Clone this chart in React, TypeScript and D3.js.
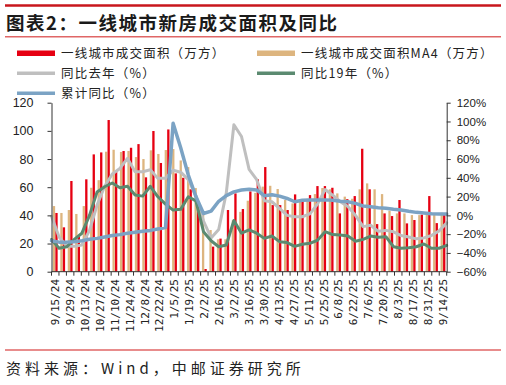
import React, { useEffect, useRef } from "react";
import * as d3 from "d3";

// weekly categories, 9/15/24 .. 9/14/25
const weeks = [
  "9/15/24", "9/22/24", "9/29/24", "10/6/24", "10/13/24", "10/20/24", "10/27/24", "11/3/24",
  "11/10/24", "11/17/24", "11/24/24", "12/1/24", "12/8/24", "12/15/24", "12/22/24", "12/29/24",
  "1/5/25", "1/12/25", "1/19/25", "1/26/25", "2/2/25", "2/9/25", "2/16/25", "2/23/25",
  "3/2/25", "3/9/25", "3/16/25", "3/23/25", "3/30/25", "4/6/25", "4/13/25", "4/20/25",
  "4/27/25", "5/4/25", "5/11/25", "5/18/25", "5/25/25", "6/1/25", "6/8/25", "6/15/25",
  "6/22/25", "6/29/25", "7/6/25", "7/13/25", "7/20/25", "7/27/25", "8/3/25", "8/10/25",
  "8/17/25", "8/24/25", "8/31/25", "9/7/25", "9/14/25",
];

// 一线城市成交面积（万方）
const area = [
  41.7, 31.5, 64.4, 25, 65.6, 83.3, 84.7, 107.7, 71, 85.7, 88, 90.6, 67, 99.9,
  77.2, 101, 69.8, 66.7, 58.5, 44, 1.9, 17.8, 23.5, 43.8, 55.6, 44.5, 57, 65.6,
  74.3, 47.3, 47.3, 43.8, 54.9, 50.2, 54.4, 60.8, 60.8, 59.6, 41.4, 51.5, 53.7,
  87.3, 58.5, 33.8, 41.4, 39.5, 50.9, 34.3, 36.7, 40.5, 53.7, 34.5, 40.5,
];

// 一线城市成交面积MA4（万方）
const areaMA4 = [
  46.6, 41.7, 43.8, 41, 46.6, 59.6, 65, 85.2, 86.6, 85, 85.7, 81.4, 80, 86.2,
  83.6, 86.4, 87.1, 79, 74.3, 59.4, 41, 29.6, 23, 23, 36.5, 42.5, 50.4, 56,
  60.4, 61, 58.7, 50.9, 48.5, 50.9, 51.8, 55.1, 59.4, 58.5, 55.6, 53.3, 51.8,
  58.5, 62.7, 58.5, 55.1, 43.3, 41.4, 41.4, 40.2, 40.2, 40.5, 40.5, 41.9,
];

// 同比去年（%）
const yoyLastYear = [
  -1, -23, -33, -33, -31.5, -16, 11, 31, 44, 50, 60.7, 46.5, 46.5, 48.5,
  39.4, 39.4, 48, 46, 38, 21, -6, -24, -15, 24, 96.5, 84, 49, 38,
  15.5, 14.5, 7.5, 0, -1.5, -1.5, 1.5, 12, 27.5, 21.5, 14.5, 9.5, 0,
  -12, -10.5, -17, -16, -17.5, -21.5, -23, -25, -24, -21.5, -16.5, -8,
];

// 同比19年（%）
const yoy2019 = [
  -25.7, -35, -33.5, -25.5, -19, 0, 25, 30.5, 34.5, 29.5, 31, 21.6, 20.5, 31,
  19.8, 12, 5.6, 6.4, 19.8, 15.5, -17.4, -27, -33.4, -31.6, -5.5, -19, -15.5, -19,
  -24.5, -22, -28, -29, -33, -30.8, -29.8, -26.5, -17.4, -20.5, -21, -22, -27.5,
  -25.6, -22, -23.4, -22.7, -33.4, -35, -34.4, -33.4, -30.5, -35, -35, -32,
];

// 累计同比（%）
const yoyCumulative = [
  -27, -28.5, -28.5, -28, -27, -25.5, -24.5, -23, -21.5, -20.5, -19, -18, -17, -16,
  -14.5, -13, 98, 72, 43, 20, 2, 4.5, 15, 21, 25, 27, 27.7, 27,
  21, 22, 20.5, 18, 14.5, 16, 16.3, 16.5, 16.5, 16, 15, 14.5, 12.8,
  10, 9.2, 8.2, 7.5, 6.4, 5.7, 4.3, 3.2, 2.5, 1.8, 1.4, 1.4,
];

const leftTicks = [0, 20, 40, 60, 80, 100, 120];
const rightTicks = [-60, -40, -20, 0, 20, 40, 60, 80, 100, 120];

const colorRed = "#E60012";
const colorTan = "#DDB57F";
const colorGrey = "#BFBFBF";
const colorGreen = "#5B8A70";
const colorBlue = "#7BA3C4";

const cjk = "'Noto Sans CJK SC', sans-serif";
const latin = "'Liberation Sans', Arial, sans-serif";

const App = () => {
  const svgRef = useRef<SVGSVGElement>(null);

  useEffect(() => {
    const svg = d3.select(svgRef.current);
    svg.selectAll("*").remove();

    const width = 506;
    const height = 385;
    const left = 51.5;
    const right = 446.7;
    const top = 102.7;
    const bottom = 271.7;

    svg.append("rect").attr("width", width).attr("height", height).attr("fill", "white");

    // header
    svg.append("line").attr("x1", 5).attr("x2", 501).attr("y1", 5.5).attr("y2", 5.5)
      .attr("stroke", "#C8161D").attr("stroke-width", 2.5);
    svg.append("text").attr("x", 6).attr("y", 30)
      .style("font-family", cjk).style("font-size", "18.5px").style("font-weight", "bold")
      .style("letter-spacing", "1.5px").attr("fill", "#1a1a1a")
      .text("图表2：一线城市新房成交面积及同比");
    svg.append("line").attr("x1", 5).attr("x2", 501).attr("y1", 36.8).attr("y2", 36.8)
      .attr("stroke", "#E06666").attr("stroke-width", 1.5);

    // legend
    const legendItems = [
      { label: "一线城市成交面积（万方）", color: colorRed, w: 5.5, col: 0, row: 0 },
      { label: "一线城市成交面积MA4（万方）", color: colorTan, w: 5.5, col: 1, row: 0 },
      { label: "同比去年（%）", color: colorGrey, w: 3.5, col: 0, row: 1 },
      { label: "同比19年（%）", color: colorGreen, w: 3.5, col: 1, row: 1 },
      { label: "累计同比（%）", color: colorBlue, w: 3.5, col: 0, row: 2 },
    ];
    const legend = svg.append("g");
    legendItems.forEach((d) => {
      const x0 = d.col === 0 ? 17 : 257;
      const y0 = 53.3 + d.row * 20;
      legend.append("line").attr("x1", x0).attr("x2", x0 + 38).attr("y1", y0).attr("y2", y0)
        .attr("stroke", d.color).attr("stroke-width", d.w);
      legend.append("text").attr("x", x0 + 44).attr("y", y0).attr("dy", "0.36em")
        .style("font-family", cjk).style("font-size", "12.5px").style("letter-spacing", "1.2px")
        .attr("fill", "#222").text(d.label);
    });

    // scales
    const x = d3.scaleBand().domain(weeks).range([left, right]).paddingInner(0.3).paddingOuter(0.15);
    const xInner = d3.scaleBand().domain(["ma4", "area"]).range([0, x.bandwidth()]).padding(0.08);
    const xLine = d3.scalePoint().domain(weeks).range([left, right]);
    const xEdge = d3.scaleLinear().domain([0, weeks.length]).range([left, right]);
    const yL = d3.scaleLinear().domain([0, 120]).range([bottom, top]);
    const yR = d3.scaleLinear().domain([-60, 120]).range([bottom, top]);

    // bars
    const bars = svg.append("g");
    weeks.forEach((w, i) => {
      bars.append("rect")
        .attr("x", x(w)! + xInner("ma4")!).attr("width", xInner.bandwidth())
        .attr("y", yL(areaMA4[i])).attr("height", yL(0) - yL(areaMA4[i]))
        .attr("fill", colorTan);
      bars.append("rect")
        .attr("x", x(w)! + xInner("area")!).attr("width", xInner.bandwidth())
        .attr("y", yL(area[i])).attr("height", yL(0) - yL(area[i]))
        .attr("fill", colorRed);
    });

    // lines
    const lineSeries = [
      { values: yoyLastYear, color: colorGrey, w: 3 },
      { values: yoy2019, color: colorGreen, w: 3 },
      { values: yoyCumulative, color: colorBlue, w: 3.5 },
    ];
    lineSeries.forEach((s) => {
      const line = d3.line<number>()
        .x((_, i) => xLine(weeks[i])!)
        .y((d) => yR(d));
      svg.append("path").datum(s.values).attr("d", line)
        .attr("fill", "none").attr("stroke", s.color).attr("stroke-width", s.w)
        .attr("stroke-linejoin", "round").attr("stroke-linecap", "round");
    });

    // left axis
    const axL = svg.append("g").attr("transform", `translate(${left},0)`)
      .call(d3.axisLeft(yL).tickValues(leftTicks).tickSize(4).tickPadding(14).tickSizeOuter(0));
    axL.select(".domain").attr("stroke", "#333");
    axL.selectAll(".tick line").attr("stroke", "#333");
    axL.selectAll("text").style("font-family", latin).style("font-size", "12.5px").attr("fill", "#222");

    // right axis
    const axR = svg.append("g").attr("transform", `translate(${right},0)`)
      .call(d3.axisRight(yR).tickValues(rightTicks).tickSize(4).tickPadding(6).tickSizeOuter(0)
        .tickFormat((d) => `${(d as number) < 0 ? "\u2212" + Math.abs(d as number) : d}%`));
    axR.select(".domain").attr("stroke", "#333");
    axR.selectAll(".tick line").attr("stroke", "#333");
    axR.selectAll("text").style("font-family", latin).style("font-size", "11.5px").attr("fill", "#222");

    // bottom axis
    const axB = svg.append("g");
    axB.append("line").attr("x1", left).attr("x2", right).attr("y1", bottom).attr("y2", bottom)
      .attr("stroke", "#333");
    d3.range(weeks.length + 1).forEach((k) => {
      axB.append("line").attr("x1", xEdge(k)).attr("x2", xEdge(k))
        .attr("y1", bottom).attr("y2", bottom + 4).attr("stroke", "#333");
    });
    weeks.forEach((w, i) => {
      if (i % 2 !== 0) return;
      const cx = x(w)! + x.bandwidth() / 2;
      axB.append("text")
        .attr("transform", `translate(${cx},279) rotate(-90)`)
        .attr("text-anchor", "end").attr("dy", "0.35em")
        .style("font-family", "'DejaVu Sans Mono', monospace").style("font-size", "11px")
        .attr("fill", "#222").text(w);
    });

    // footer
    svg.append("line").attr("x1", 5).attr("x2", 501).attr("y1", 350).attr("y2", 350)
      .attr("stroke", "#E06666").attr("stroke-width", 1.5);
    svg.append("text").attr("x", 6).attr("y", 374)
      .style("font-family", cjk).style("font-size", "15px").style("letter-spacing", "4px")
      .attr("fill", "#222").text("资料来源：Wind，中邮证券研究所");
  }, []);

  return (
    <svg ref={svgRef} width={506} height={385}
      style={{ position: "absolute", left: 0, top: 0, display: "block" }} />
  );
};

export default App;
